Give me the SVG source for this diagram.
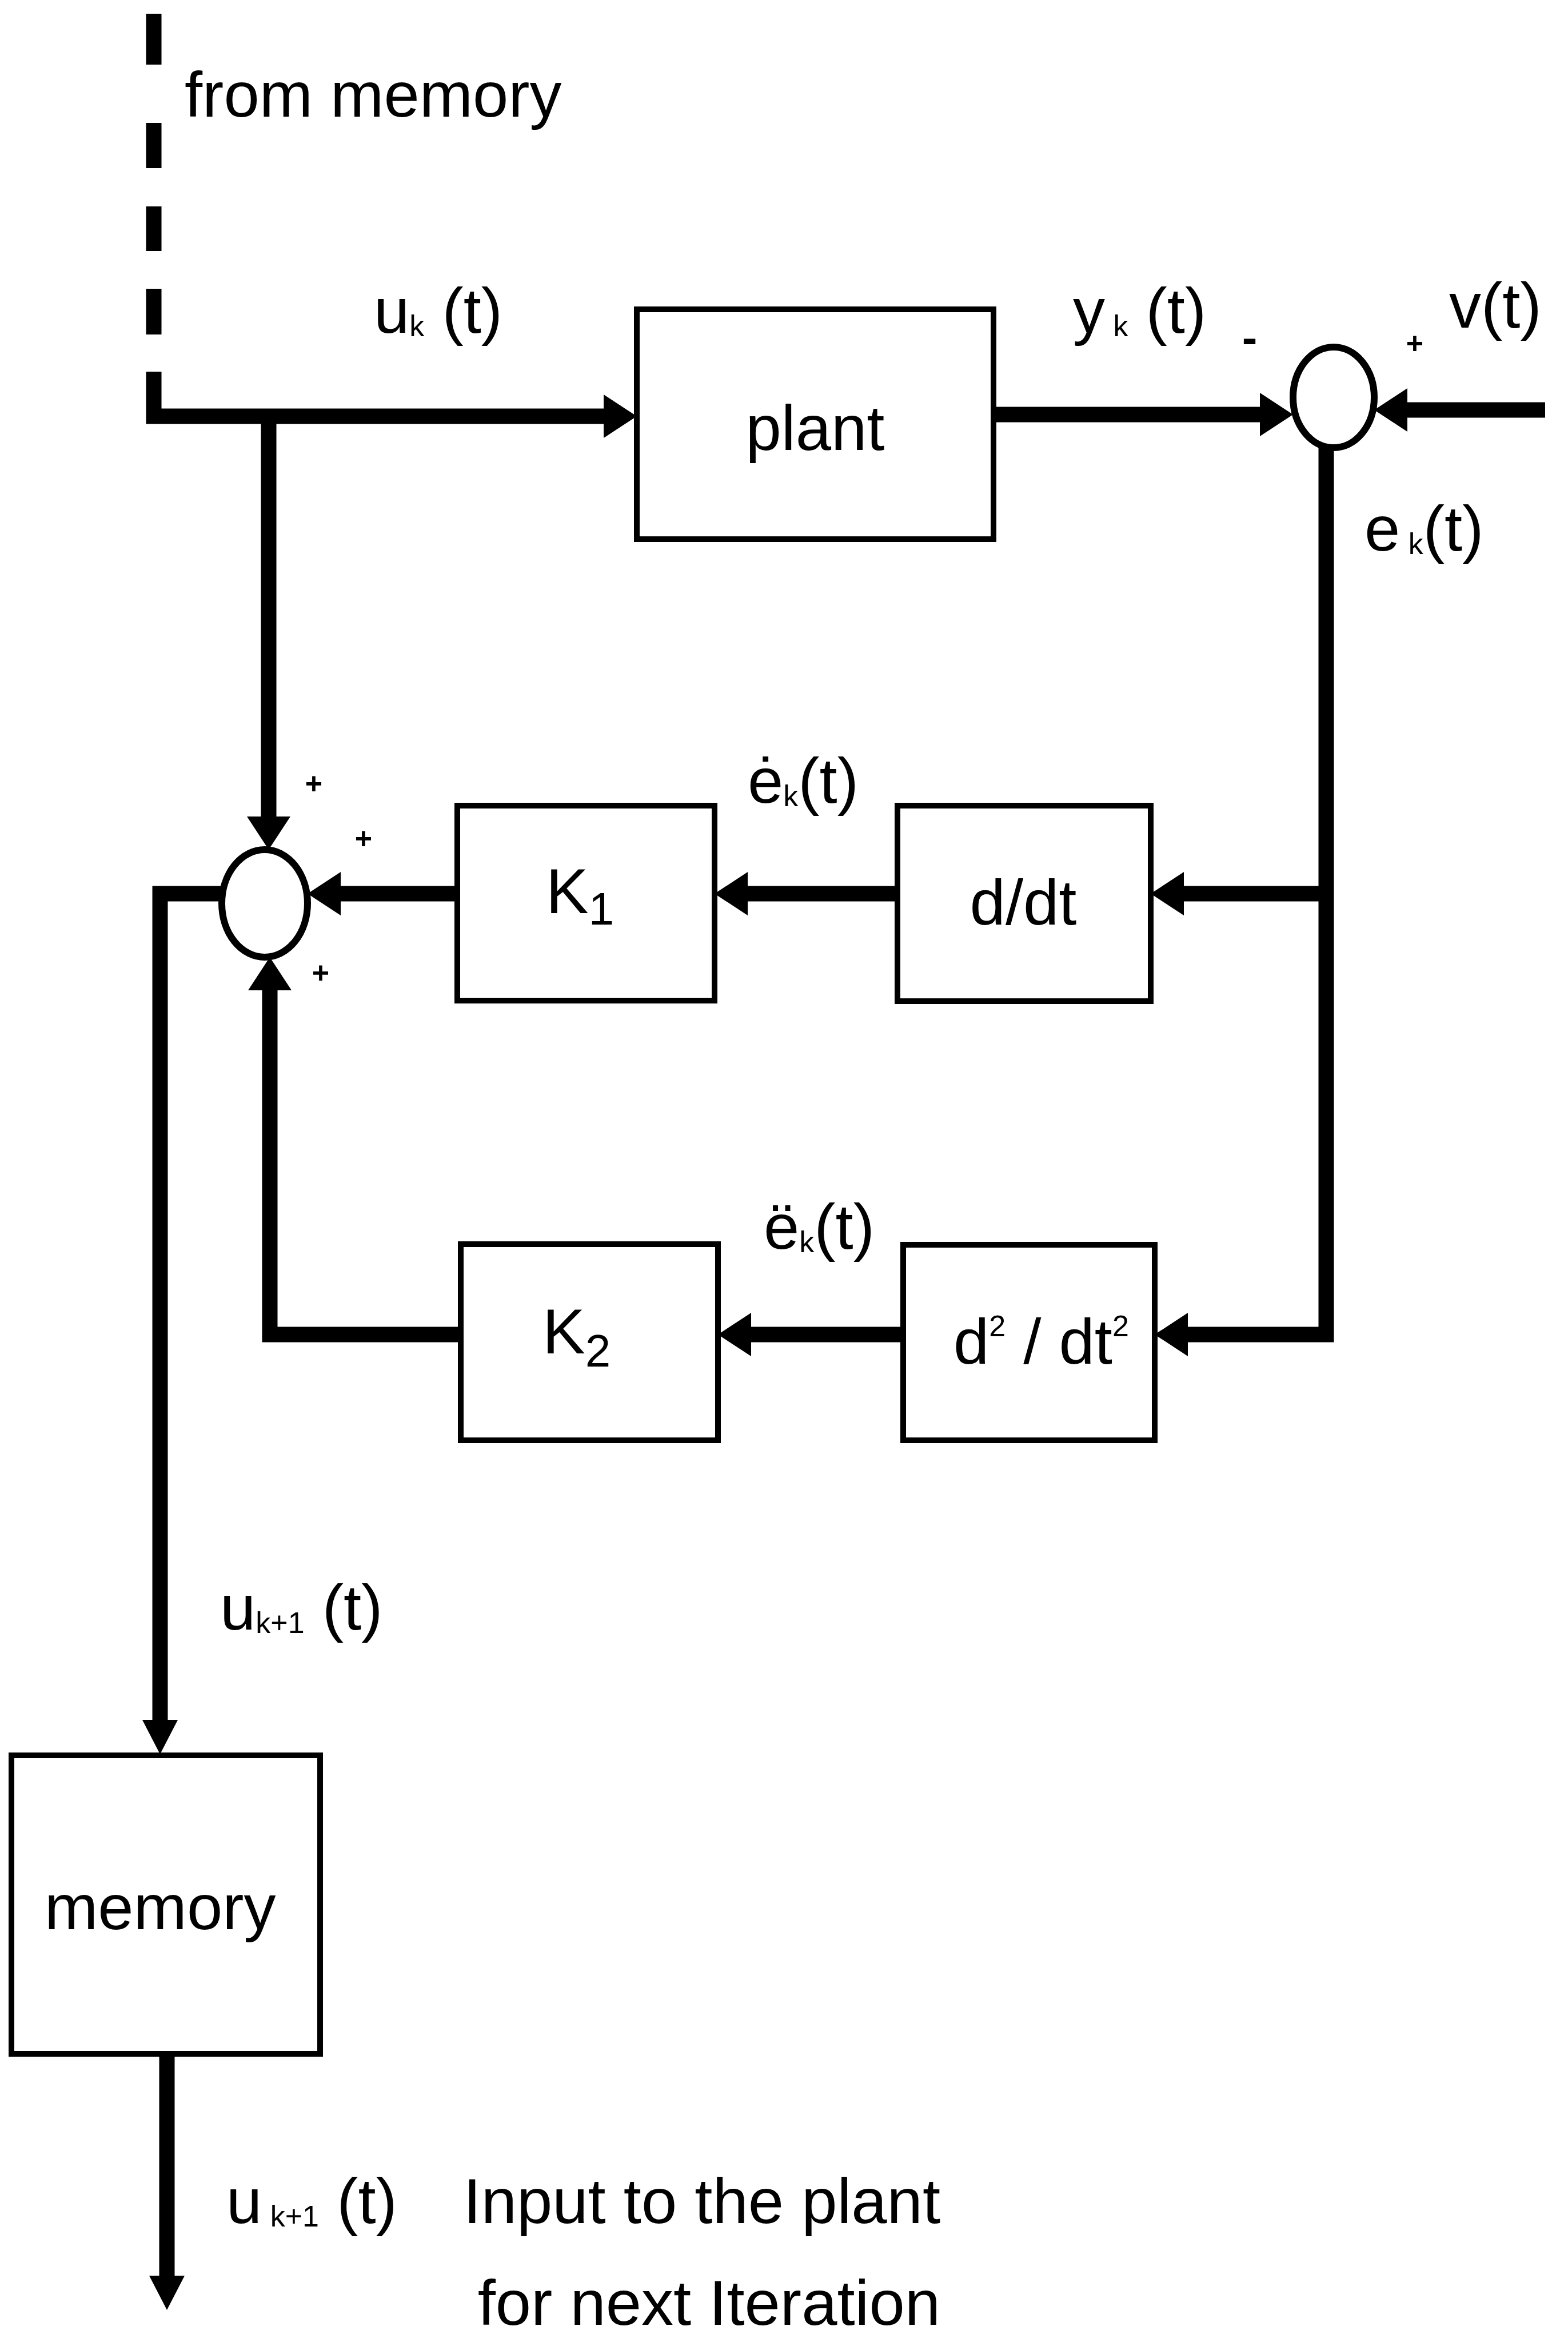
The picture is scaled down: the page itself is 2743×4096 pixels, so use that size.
<svg xmlns="http://www.w3.org/2000/svg" width="2743" height="4096" viewBox="0 0 2743 4096">
<style>
.box{fill:#fff;stroke:#000;stroke-width:10}
.sum{fill:#fff;stroke:#000;stroke-width:12}
.w{fill:none;stroke:#000;stroke-width:27;stroke-linejoin:miter}
text{font-family:"Liberation Sans",Arial,sans-serif;fill:#000;font-size:112px}
.sub{font-size:52px}
.sn{font-size:80px}
.sup{font-size:52px}
.sg{font-size:52px;font-weight:bold;text-anchor:middle}
.c{text-anchor:middle}
.e{text-anchor:end}
</style>
<defs>
<marker id="ah" markerUnits="userSpaceOnUse" viewBox="0 0 58 76" markerWidth="58" markerHeight="76" refX="0" refY="38" orient="auto"><path d="M0,0L58,38L0,76z" fill="#000"/></marker>
<marker id="ahs" markerUnits="userSpaceOnUse" viewBox="0 0 60 62" markerWidth="60" markerHeight="62" refX="0" refY="31" orient="auto"><path d="M0,0L60,31L0,62z" fill="#000"/></marker>
</defs>

<g id="connectors">
<path class="w" d="M269,24V113M269,215V294M269,361V439M269,505V585"/>
<path class="w" d="M269,650V728H1056" marker-end="url(#ah)"/>
<path class="w" d="M470,728V1428" marker-end="url(#ah)"/>
<path class="w" d="M1738,725H2204" marker-end="url(#ah)"/>
<path class="w" d="M2703,717H2462" marker-end="url(#ah)"/>
<path class="w" d="M2320,783V2334H2078" marker-end="url(#ah)"/>
<path class="w" d="M2320,1563H2071" marker-end="url(#ah)"/>
<path class="w" d="M1570,1563H1308" marker-end="url(#ah)"/>
<path class="w" d="M800,1563H596" marker-end="url(#ah)"/>
<path class="w" d="M1580,2334H1314" marker-end="url(#ah)"/>
<path class="w" d="M806,2334H472V1732" marker-end="url(#ah)"/>
<path class="w" d="M388,1563H280V3008" marker-end="url(#ahs)"/>
<path class="w" d="M292,3592V3980" marker-end="url(#ahs)"/>
</g>

<g id="labels">
<text x="323" y="204">from memory</text>
<text x="654" y="582">u<tspan class="sub" dy="6">k</tspan><tspan dy="-6"> (t)</tspan></text>
<text x="1877" y="582">y<tspan class="sub" dy="6"> k</tspan><tspan dy="-6"> (t)</tspan></text>
<text class="sg" x="2186" y="618" style="font-size:80px">-</text>
<text class="sg" x="2475" y="618">+</text>
<text x="2535" y="573">v(t)</text>
<text x="2387" y="963">e<tspan class="sub" dy="6"> k</tspan><tspan dy="-6">(t)</tspan></text>
<text x="1308" y="1404">ė<tspan class="sub" dy="6">k</tspan><tspan dy="-6">(t)</tspan></text>
<text x="1336" y="2184">ë<tspan class="sub" dy="6">k</tspan><tspan dy="-6">(t)</tspan></text>
<text class="sg" x="549" y="1388">+</text>
<text class="sg" x="636" y="1484">+</text>
<text class="sg" x="561" y="1719">+</text>
<text x="385" y="2850">u<tspan class="sub" dy="6">k+1</tspan><tspan dy="-6"> (t)</tspan></text>
<text x="396" y="3888">u<tspan class="sub" dy="6"> k+1</tspan><tspan dy="-6"> (t)</tspan></text>
<text class="e" x="1645" y="3888">Input to the plant</text>
<text class="e" x="1645" y="4066">for next Iteration</text>
</g>

<g id="plant">
<rect class="box" x="1114" y="541" width="624" height="402"/>
<text class="c" x="1426" y="787">plant</text>
</g>

<g id="sum2">
<ellipse class="sum" cx="2333" cy="695" rx="71" ry="88"/>
</g>

<g id="sum1">
<ellipse class="sum" cx="463" cy="1580" rx="75" ry="94"/>
</g>

<g id="K1">
<rect class="box" x="800" y="1409" width="450" height="341"/>
<text x="955" y="1597">K<tspan class="sn" dy="20">1</tspan></text>
</g>

<g id="ddt">
<rect class="box" x="1570" y="1409" width="443" height="342"/>
<text class="c" x="1790" y="1617">d/dt</text>
</g>

<g id="K2">
<rect class="box" x="806" y="2176" width="450" height="343"/>
<text x="949" y="2367">K<tspan class="sn" dy="23">2</tspan></text>
</g>

<g id="d2dt2">
<rect class="box" x="1580" y="2177" width="440" height="342"/>
<text x="1668" y="2385">d<tspan class="sup" dy="-48">2</tspan><tspan dy="48"> / dt</tspan><tspan class="sup" dy="-48">2</tspan></text>
</g>

<g id="memory">
<rect class="box" x="20" y="3070" width="540" height="522"/>
<text x="78" y="3374">memory</text>
</g>
</svg>
